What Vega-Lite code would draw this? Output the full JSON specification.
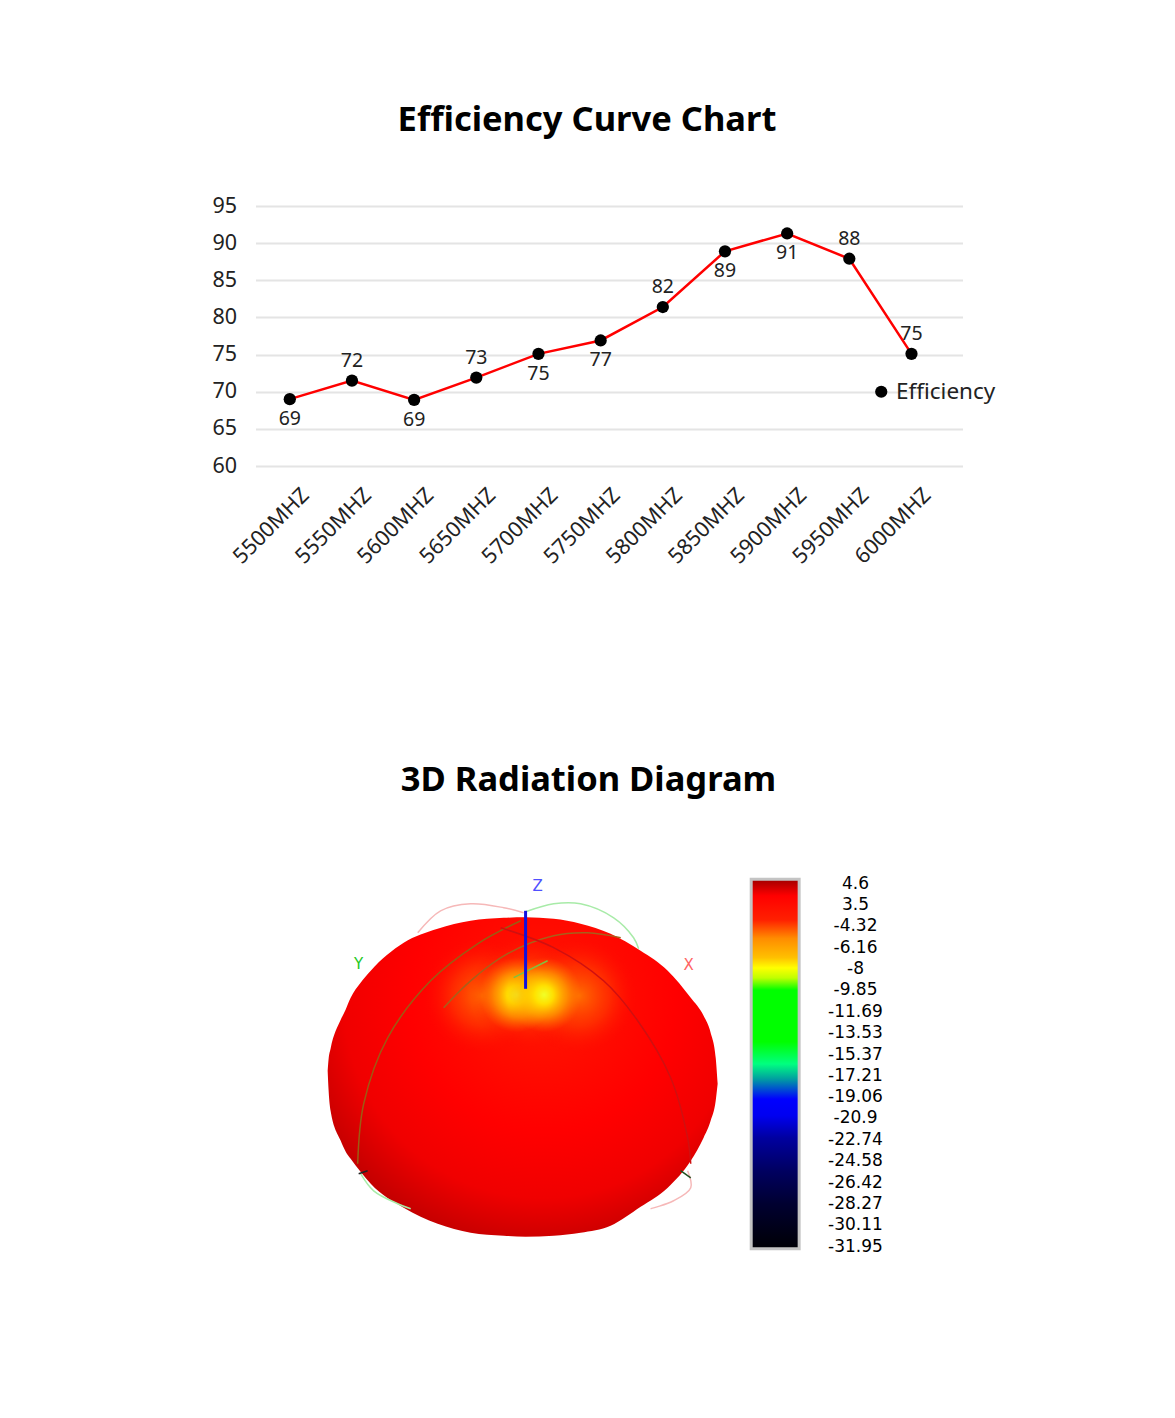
{
  "$schema": "https://vega.github.io/schema/vega-lite/v6.json",
  "description": "Efficiency curve by frequency and a 3D radiation diagram with its gain colour bar.",
  "background": "white",
  "padding": {"left": 211.5, "top": 102, "right": 0, "bottom": 0},
  "bounds": "flush",
  "spacing": 406,
  "resolve": {"scale": {"color": "independent"}, "legend": {"color": "independent"}},
  "config": {"view": {"stroke": null}, "font": "Noto Sans"},
  "datasets": {
    "efficiency": [
      {"freq": "5500MHZ", "value": 69.0, "label": "69"},
      {"freq": "5550MHZ", "value": 71.5, "label": "72"},
      {"freq": "5600MHZ", "value": 68.9, "label": "69"},
      {"freq": "5650MHZ", "value": 71.9, "label": "73"},
      {"freq": "5700MHZ", "value": 75.1, "label": "75"},
      {"freq": "5750MHZ", "value": 76.9, "label": "77"},
      {"freq": "5800MHZ", "value": 81.4, "label": "82"},
      {"freq": "5850MHZ", "value": 88.9, "label": "89"},
      {"freq": "5900MHZ", "value": 91.3, "label": "91"},
      {"freq": "5950MHZ", "value": 87.9, "label": "88"},
      {"freq": "6000MHZ", "value": 75.1, "label": "75"}
    ],
    "outline": [
      {"u": -1.000, "v": 0.031, "v2": 0.031},
      {"u": -0.995, "v": 0.092, "v2": -0.072},
      {"u": -0.985, "v": 0.144, "v2": -0.174},
      {"u": -0.933, "v": 0.292, "v2": -0.328},
      {"u": -0.908, "v": 0.344, "v2": -0.383},
      {"u": -0.882, "v": 0.405, "v2": -0.421},
      {"u": -0.831, "v": 0.482, "v2": -0.487},
      {"u": -0.779, "v": 0.544, "v2": -0.549},
      {"u": -0.610, "v": 0.687, "v2": -0.672},
      {"u": -0.436, "v": 0.759, "v2": -0.754},
      {"u": -0.267, "v": 0.800, "v2": -0.800},
      {"u": -0.097, "v": 0.815, "v2": -0.815},
      {"u": 0.015, "v": 0.818, "v2": -0.821},
      {"u": 0.159, "v": 0.810, "v2": -0.815},
      {"u": 0.297, "v": 0.785, "v2": -0.800},
      {"u": 0.451, "v": 0.733, "v2": -0.764},
      {"u": 0.605, "v": 0.646, "v2": -0.667},
      {"u": 0.744, "v": 0.544, "v2": -0.569},
      {"u": 0.862, "v": 0.405, "v2": -0.431},
      {"u": 0.928, "v": 0.313, "v2": -0.313},
      {"u": 0.964, "v": 0.226, "v2": -0.226},
      {"u": 0.990, "v": 0.097, "v2": -0.123},
      {"u": 1.000, "v": -0.036, "v2": -0.036}
    ],
    "haze": [
      {"u": -0.210, "v": 0.415},
      {"u": 0.041, "v": 0.435},
      {"u": 0.290, "v": 0.415}
    ],
    "core": [
      {"u": -0.030, "v": 0.420},
      {"u": 0.110, "v": 0.420}
    ],
    "arcs": [
      {"arc": "pink_top", "i": 0, "u": -0.538, "v": 0.738},
      {"arc": "pink_top", "i": 1, "u": -0.421, "v": 0.851},
      {"arc": "pink_top", "i": 2, "u": -0.267, "v": 0.887},
      {"arc": "pink_top", "i": 3, "u": -0.097, "v": 0.867},
      {"arc": "pink_top", "i": 4, "u": 0.005, "v": 0.841},
      {"arc": "green_top", "i": 0, "u": 0.015, "v": 0.846},
      {"arc": "green_top", "i": 1, "u": 0.159, "v": 0.887},
      {"arc": "green_top", "i": 2, "u": 0.297, "v": 0.887},
      {"arc": "green_top", "i": 3, "u": 0.467, "v": 0.815},
      {"arc": "green_top", "i": 4, "u": 0.569, "v": 0.713},
      {"arc": "green_top", "i": 5, "u": 0.595, "v": 0.656},
      {"arc": "green_bottom", "i": 0, "u": -0.831, "v": -0.497},
      {"arc": "green_bottom", "i": 1, "u": -0.764, "v": -0.585},
      {"arc": "green_bottom", "i": 2, "u": -0.641, "v": -0.651},
      {"arc": "green_bottom", "i": 3, "u": -0.574, "v": -0.677},
      {"arc": "pink_bottom", "i": 0, "u": 0.846, "v": -0.482},
      {"arc": "pink_bottom", "i": 1, "u": 0.862, "v": -0.569},
      {"arc": "pink_bottom", "i": 2, "u": 0.774, "v": -0.636},
      {"arc": "pink_bottom", "i": 3, "u": 0.656, "v": -0.677},
      {"arc": "surface_left", "i": 0, "u": -0.846, "v": -0.446},
      {"arc": "surface_left", "i": 1, "u": -0.815, "v": -0.138},
      {"arc": "surface_left", "i": 2, "u": -0.692, "v": 0.200},
      {"arc": "surface_left", "i": 3, "u": -0.472, "v": 0.492},
      {"arc": "surface_left", "i": 4, "u": -0.231, "v": 0.682},
      {"arc": "surface_left", "i": 5, "u": -0.010, "v": 0.800},
      {"arc": "surface_mid", "i": 0, "u": -0.405, "v": 0.354},
      {"arc": "surface_mid", "i": 1, "u": -0.267, "v": 0.492},
      {"arc": "surface_mid", "i": 2, "u": -0.077, "v": 0.631},
      {"arc": "surface_mid", "i": 3, "u": 0.159, "v": 0.723},
      {"arc": "surface_mid", "i": 4, "u": 0.333, "v": 0.738},
      {"arc": "surface_mid", "i": 5, "u": 0.503, "v": 0.713},
      {"arc": "surface_right", "i": 0, "u": -0.113, "v": 0.764},
      {"arc": "surface_right", "i": 1, "u": 0.159, "v": 0.662},
      {"arc": "surface_right", "i": 2, "u": 0.415, "v": 0.492},
      {"arc": "surface_right", "i": 3, "u": 0.590, "v": 0.287},
      {"arc": "surface_right", "i": 4, "u": 0.759, "v": -0.005},
      {"arc": "surface_right", "i": 5, "u": 0.846, "v": -0.313},
      {"arc": "surface_right", "i": 6, "u": 0.862, "v": -0.446},
      {"arc": "spot", "i": 0, "u": -0.046, "v": 0.508},
      {"arc": "spot", "i": 1, "u": 0.128, "v": 0.595},
      {"arc": "tick_left", "i": 0, "u": -0.841, "v": -0.497},
      {"arc": "tick_left", "i": 1, "u": -0.795, "v": -0.482},
      {"arc": "tick_right", "i": 0, "u": 0.810, "v": -0.482},
      {"arc": "tick_right", "i": 1, "u": 0.862, "v": -0.518}
    ],
    "zaxis": [
      {"u": 0.015, "v": 0.851, "v2": 0.451}
    ],
    "axisnames": [
      {"name": "Z", "u": 0.077, "v": 0.979},
      {"name": "Y", "u": -0.841, "v": 0.579},
      {"name": "X", "u": 0.851, "v": 0.574}
    ],
    "colorbar": [
      {"u": 1.172, "u2": 1.418, "v": 1.013, "v2": -0.882}
    ],
    "gainlabels": [
      {"label": "4.6", "u": 1.707, "v": 0.990},
      {"label": "3.5", "u": 1.707, "v": 0.880},
      {"label": "-4.32", "u": 1.707, "v": 0.771},
      {"label": "-6.16", "u": 1.707, "v": 0.662},
      {"label": "-8", "u": 1.707, "v": 0.552},
      {"label": "-9.85", "u": 1.707, "v": 0.443},
      {"label": "-11.69", "u": 1.707, "v": 0.333},
      {"label": "-13.53", "u": 1.707, "v": 0.224},
      {"label": "-15.37", "u": 1.707, "v": 0.114},
      {"label": "-17.21", "u": 1.707, "v": 0.005},
      {"label": "-19.06", "u": 1.707, "v": -0.105},
      {"label": "-20.9", "u": 1.707, "v": -0.214},
      {"label": "-22.74", "u": 1.707, "v": -0.324},
      {"label": "-24.58", "u": 1.707, "v": -0.433},
      {"label": "-26.42", "u": 1.707, "v": -0.543},
      {"label": "-28.27", "u": 1.707, "v": -0.652},
      {"label": "-30.11", "u": 1.707, "v": -0.762},
      {"label": "-31.95", "u": 1.707, "v": -0.871}
    ]
  },
  "vconcat": [
    {
      "title": {
        "text": "Efficiency Curve Chart",
        "fontSize": 34.5, "fontWeight": "bold", "font": "Noto Sans", "color": "#000000",
        "anchor": "middle", "frame": "group", "dx": -22, "offset": 30, "baseline": "alphabetic"
      },
      "width": 707,
      "height": 260,
      "data": {"name": "efficiency"},
      "encoding": {
        "x": {
          "field": "freq", "type": "nominal", "sort": null,
          "scale": {"type": "point", "padding": 0.686, "align": 0.402},
          "axis": {
            "title": null, "labelAngle": -45, "labelFontSize": 21.5, "labelColor": "#222222",
            "labelFont": "Noto Sans", "ticks": false, "domain": false, "grid": false,
            "labelPadding": 18, "labelOffset": 8
          }
        },
        "y": {
          "field": "value", "type": "quantitative",
          "scale": {"domain": [60, 95], "nice": false, "zero": false},
          "axis": {
            "title": null, "values": [60, 65, 70, 75, 80, 85, 90, 95],
            "labelFontSize": 21.5, "labelColor": "#222222", "labelFont": "Noto Sans",
            "ticks": false, "domain": false, "gridColor": "#e4e4e4", "gridWidth": 2,
            "labelPadding": 19
          }
        }
      },
      "layer": [
        {"mark": {"type": "line", "color": "#ff0000", "strokeWidth": 2.5}},
        {
          "mark": {"type": "point", "filled": true, "size": 150, "opacity": 1},
          "encoding": {
            "color": {
              "datum": "Efficiency", "type": "nominal",
              "scale": {"range": ["#000000"]},
              "legend": {
                "orient": "none", "legendX": 614.5, "legendY": 174.5, "title": null,
                "symbolType": "circle", "symbolSize": 150, "labelFontSize": 22.5,
                "labelFont": "Noto Sans", "labelColor": "#222222", "labelOffset": 3.5, "padding": 0
              }
            }
          }
        },
        {
          "transform": [{"filter": {"field": "freq", "oneOf": ["5550MHZ", "5650MHZ", "5800MHZ", "5950MHZ", "6000MHZ"]}}],
          "mark": {"type": "text", "fontSize": 19.5, "dy": -20, "color": "#222222", "font": "Noto Sans"},
          "encoding": {"text": {"field": "label"}}
        },
        {
          "transform": [{"filter": {"not": {"field": "freq", "oneOf": ["5550MHZ", "5650MHZ", "5800MHZ", "5950MHZ", "6000MHZ"]}}}],
          "mark": {"type": "text", "fontSize": 19.5, "dy": 20, "color": "#222222", "font": "Noto Sans"},
          "encoding": {"text": {"field": "label"}}
        }
      ]
    },
    {
      "title": {
        "text": "3D Radiation Diagram",
        "fontSize": 34.5, "fontWeight": "bold", "font": "Noto Sans", "color": "#000000",
        "anchor": "middle", "frame": "group", "dx": -18, "offset": 47, "baseline": "alphabetic"
      },
      "width": 702,
      "height": 390,
      "encoding": {
        "x": {"field": "u", "type": "quantitative", "scale": {"domain": [-1.37, 2.23], "nice": false, "zero": false}, "axis": null},
        "y": {"field": "v", "type": "quantitative", "scale": {"domain": [-0.95, 1.05], "nice": false, "zero": false}, "axis": null}
      },
      "layer": [
        {
          "data": {"name": "outline"},
          "mark": {
            "type": "area", "orient": "vertical", "interpolate": "monotone",
            "color": {
              "gradient": "radial", "x1": 0.55, "y1": 0.3, "r1": 0, "x2": 0.55, "y2": 0.3, "r2": 0.68,
              "stops": [
                {"offset": 0, "color": "#ff1800"},
                {"offset": 0.5, "color": "#ff0000"},
                {"offset": 0.75, "color": "#f00000"},
                {"offset": 1, "color": "#b80000"}
              ]
            }
          },
          "encoding": {"y2": {"field": "v2"}}
        },
        {
          "data": {"name": "haze"},
          "mark": {
            "type": "point", "shape": "circle", "filled": true, "opacity": 1, "size": 14400,
            "color": {
              "gradient": "radial", "x1": 0.5, "y1": 0.5, "r1": 0, "x2": 0.5, "y2": 0.5, "r2": 0.5,
              "stops": [
                {"offset": 0, "color": "rgba(255,140,0,0.75)"},
                {"offset": 0.5, "color": "rgba(255,90,0,0.4)"},
                {"offset": 1, "color": "rgba(255,0,0,0)"}
              ]
            }
          }
        },
        {
          "data": {"name": "core"},
          "mark": {
            "type": "point", "shape": "circle", "filled": true, "opacity": 1, "size": 5600,
            "color": {
              "gradient": "radial", "x1": 0.5, "y1": 0.5, "r1": 0, "x2": 0.5, "y2": 0.5, "r2": 0.5,
              "stops": [
                {"offset": 0, "color": "rgba(240,255,40,1)"},
                {"offset": 0.25, "color": "rgba(255,230,0,0.95)"},
                {"offset": 0.6, "color": "rgba(255,180,0,0.6)"},
                {"offset": 1, "color": "rgba(255,120,0,0)"}
              ]
            }
          }
        },
        {
          "data": {"name": "arcs"},
          "mark": {"type": "line", "interpolate": "catmull-rom", "strokeWidth": 1.5},
          "encoding": {
            "order": {"field": "i", "type": "quantitative"},
            "color": {
              "field": "arc", "type": "nominal", "legend": null,
              "scale": {
                "domain": ["pink_top", "green_top", "green_bottom", "pink_bottom", "surface_left", "surface_mid", "surface_right", "spot", "tick_left", "tick_right"],
                "range": ["#f6b8b8", "#a8eba8", "#a8eba8", "#f6b8b8", "#9c5c12", "#a8601a", "#d01010", "#80c040", "#222222", "#1f4f1f"]
              }
            }
          }
        },
        {
          "data": {"name": "zaxis"},
          "mark": {"type": "rule", "color": "#1010e0", "strokeWidth": 3},
          "encoding": {"y2": {"field": "v2"}}
        },
        {
          "data": {"name": "axisnames"},
          "mark": {"type": "text", "fontSize": 15, "font": "DejaVu Sans"},
          "encoding": {
            "text": {"field": "name"},
            "color": {
              "field": "name", "type": "nominal", "legend": null,
              "scale": {"domain": ["Z", "Y", "X"], "range": ["#5050ff", "#22c822", "#ff6464"]}
            }
          }
        },
        {
          "data": {"name": "colorbar"},
          "mark": {
            "type": "rect", "stroke": "#c4c4c4", "strokeWidth": 3,
            "color": {
              "gradient": "linear", "x1": 0, "y1": 0, "x2": 0, "y2": 1,
              "stops": [
                {"offset": 0, "color": "#a00000"},
                {"offset": 0.03, "color": "#e00000"},
                {"offset": 0.045, "color": "#ff0000"},
                {"offset": 0.11, "color": "#ff2000"},
                {"offset": 0.16, "color": "#ff8c00"},
                {"offset": 0.212, "color": "#ffc000"},
                {"offset": 0.24, "color": "#ffff00"},
                {"offset": 0.267, "color": "#c0ff00"},
                {"offset": 0.3, "color": "#00ff00"},
                {"offset": 0.44, "color": "#00ff00"},
                {"offset": 0.5, "color": "#00ff80"},
                {"offset": 0.54, "color": "#00a0a0"},
                {"offset": 0.595, "color": "#0000ff"},
                {"offset": 0.64, "color": "#0000f0"},
                {"offset": 0.7, "color": "#0000a0"},
                {"offset": 0.79, "color": "#000060"},
                {"offset": 0.88, "color": "#000030"},
                {"offset": 1, "color": "#000005"}
              ]
            }
          },
          "encoding": {"x2": {"field": "u2"}, "y2": {"field": "v2"}}
        },
        {
          "data": {"name": "gainlabels"},
          "mark": {"type": "text", "fontSize": 17, "font": "DejaVu Sans", "color": "#000000", "baseline": "middle", "align": "center"},
          "encoding": {
            "text": {"field": "label"}
          }
        }
      ],
      "resolve": {"scale": {"color": "independent"}}
    }
  ]
}
